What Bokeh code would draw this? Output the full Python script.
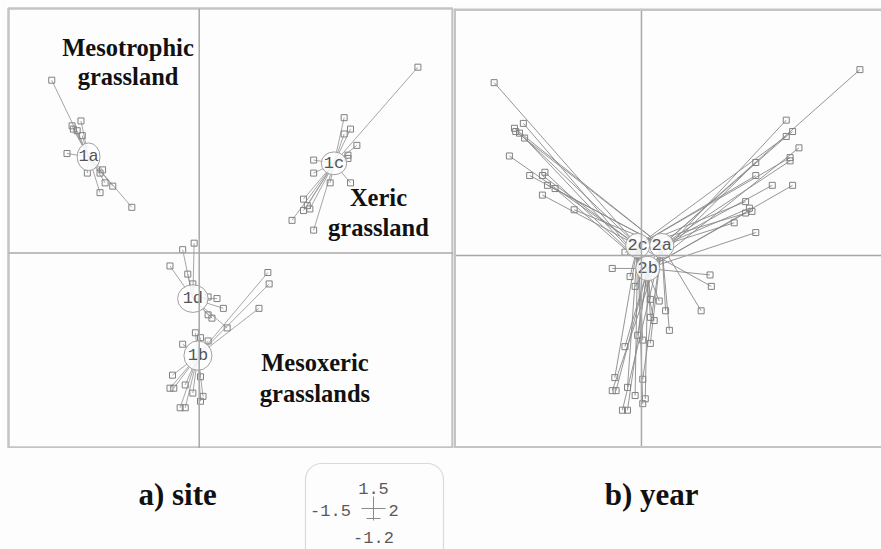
from bokeh.plotting import figure
from bokeh.layouts import column, row
from bokeh.models import Span, BoxAnnotation, Range1d
from bokeh.core.properties import value
from bokeh.embed import file_html
from bokeh.resources import INLINE

# ---- data -------------------------------------------------------------
XLIM = [-1.5, 2.0]
YLIM = [-1.2, 1.5]
XLIM_YEAR = [-1.48, 1.89]
YLIM_YEAR = [-1.185, 1.515]

site_codes = ["1a", "1b", "1c", "1d"]
site_cx = [-0.87, -0.01, 1.06, -0.05]
site_cy = [0.59, -0.63, 0.55, -0.28]
site_ew = [0.18, 0.22, 0.20, 0.24]
site_eh = [0.17, 0.18, 0.14, 0.17]

year_codes = ["2c", "2a", "2b"]
year_cx = [-0.03, 0.16, 0.05]
year_cy = [0.06, 0.06, -0.08]
year_ew = [0.19, 0.19, 0.19]
year_eh = [0.15, 0.15, 0.15]

sample_x = [
    -1.16, -1.00, -0.93, -0.96, -0.99, -0.92, -1.04, -0.88, -0.76, -0.78, -0.74, -0.68, -0.78, -0.53,
    0.54, 0.55, 0.47, -0.03, 0.01, 0.07, -0.13, -0.21, -0.23, -0.20, -0.11, 0.01, 0.03, 0.01, -0.15, -0.11, -0.05,
    1.72, 1.14, 1.19, 1.14, 1.24, 1.17, 1.17, 0.90, 0.90, 1.03, 1.19, 0.82, 0.85, 0.82, 0.87, 0.73, 0.90,
    -0.04, -0.13, -0.23, -0.09, -0.05, 0.07, 0.14, 0.19, 0.07, 0.10, 0.22,
]
sample_y = [
    1.06, 0.78, 0.81, 0.75, 0.76, 0.72, 0.61, 0.49, 0.51, 0.49, 0.43, 0.41, 0.37, 0.28,
    -0.12, -0.19, -0.34, -0.49, -0.52, -0.54, -0.56, -0.75, -0.83, -0.83, -0.81, -0.76, -0.88, -0.91, -0.95, -0.95, -0.86,
    1.14, 0.83, 0.76, 0.73, 0.66, 0.60, 0.58, 0.57, 0.49, 0.43, 0.43, 0.33, 0.29, 0.26, 0.27, 0.20, 0.14,
    0.06, 0.02, -0.08, -0.13, -0.19, -0.27, -0.28, -0.34, -0.38, -0.40, -0.46,
]
sample_site = [0] * 14 + [1] * 17 + [2] * 17 + [3] * 11
sample_year = [
    0, 1, 2, 0, 1, 2, 0, 1, 2, 0, 1, 2, 0, 1,
    2, 0, 1, 2, 0, 1, 2, 0, 1, 2, 0, 1, 2, 0, 1, 2, 0,
    1, 2, 0, 1, 2, 0, 1, 2, 0, 1, 2, 0, 1, 2, 0, 1, 2,
    0, 1, 2, 0, 1, 2, 0, 1, 2, 0, 1,
]

group_text = [("Mesotrophic", -0.56, 1.26), ("grassland", -0.56, 1.085),
              ("Xeric", 1.41, 0.34), ("grassland", 1.41, 0.155),
              ("Mesoxeric", 0.91, -0.67), ("grasslands", 0.91, -0.86)]

panel_titles = ["a)  site", "b)  year"]

# ---- style ------------------------------------------------------------
BG = "#fdfdfd"
LINE = "#9c9c9c"
FRAME = "#c4c4c4"
SERIF = value("Liberation Serif")
MONO = value("Liberation Mono")


def panel(w, xr, yr, left_border=0):
    p = figure(width=w + left_border, height=448, x_range=Range1d(*xr), y_range=Range1d(*yr),
               output_backend="svg", toolbar_location=None,
               min_border_left=left_border, min_border_top=8, min_border_right=0, min_border_bottom=0,
               x_axis_location=None, y_axis_location=None)
    p.grid.visible = False
    p.background_fill_color = BG
    p.border_fill_color = BG
    p.outline_line_color = None
    p.add_layout(Span(location=0, dimension="height", line_color="#a8a8a8", line_width=1.5))
    p.add_layout(Span(location=0, dimension="width", line_color="#a8a8a8", line_width=1.5))
    return p


def stars(p, gx, gy, gw, gh, codes, member, line_color):
    x0 = [gx[g] for g in member]
    y0 = [gy[g] for g in member]
    p.segment(x0=x0, y0=y0, x1=sample_x, y1=sample_y, line_color=line_color, line_width=1, line_alpha=0.9)
    p.scatter(x=sample_x, y=sample_y, marker="square", size=6, fill_color=None,
              line_color="#808080", line_width=1)
    p.ellipse(x=gx, y=gy, width=gw, height=gh, fill_color="white", fill_alpha=0.85,
              line_color="#a0a0a0", line_width=1)
    p.text(x=gx, y=gy, text=codes, text_font=MONO, text_font_size="17px",
           text_color="#555555", text_align="center", text_baseline="middle")


# left panel: site
p1 = panel(445, XLIM, YLIM, left_border=8)
p1.outline_line_color = FRAME
p1.outline_line_width = 2.5
stars(p1, site_cx, site_cy, site_ew, site_eh, site_codes, sample_site, LINE)
p1.text(x=[t[1] for t in group_text], y=[t[2] for t in group_text], text=[t[0] for t in group_text],
        text_font=SERIF, text_font_style="bold", text_font_size="24.5px", text_color="#111111",
        text_align="center", text_baseline="middle")

# right panel: year
p2 = panel(428, XLIM_YEAR, YLIM_YEAR)
for loc, dim in [(YLIM_YEAR[1], "width"), (YLIM_YEAR[0], "width"), (XLIM_YEAR[0], "height")]:
    p2.add_layout(Span(location=loc, dimension=dim, line_color=FRAME, line_width=5))
stars(p2, year_cx, year_cy, year_ew, year_eh, year_codes, sample_year, "#8a8a8a")

# bottom strip (coordinates in page pixels: x from left, y up from the bottom)
p3 = figure(width=881, height=101, x_range=Range1d(0, 881), y_range=Range1d(0, 101),
            output_backend="svg", toolbar_location=None, min_border=0,
            x_axis_location=None, y_axis_location=None)
p3.grid.visible = False
p3.outline_line_color = None
p3.background_fill_color = BG
p3.border_fill_color = BG
p3.text(x=[181, 655], y=[55, 55], text=panel_titles, text_font=SERIF,
        text_font_style="bold", text_font_size="31px", text_color="#111111",
        text_align="center", text_baseline="middle")
p3.add_layout(BoxAnnotation(left=305, right=443, top=86, bottom=-40, fill_color=None,
                            line_color="#8a8a8a", line_width=1.2, border_radius=16))


def fmt(v):
    return f"{v:g}"


p3.text(x=[373, 330, 393, 373], y=[61, 39, 39, 12],
        text=[fmt(YLIM[1]), fmt(XLIM[0]), fmt(XLIM[1]), fmt(YLIM[0])],
        text_font=MONO, text_font_size="17px", text_color="#5a5a5a",
        text_align="center", text_baseline="middle")
p3.segment(x0=[373, 361, 366], y0=[29, 41, 31], x1=[373, 385, 380], y1=[53, 41, 31],
           line_color="#8a8a8a", line_width=1)

layout = column(row(p1, p2), p3)
open("out.html", "w").write(file_html(layout, INLINE))
